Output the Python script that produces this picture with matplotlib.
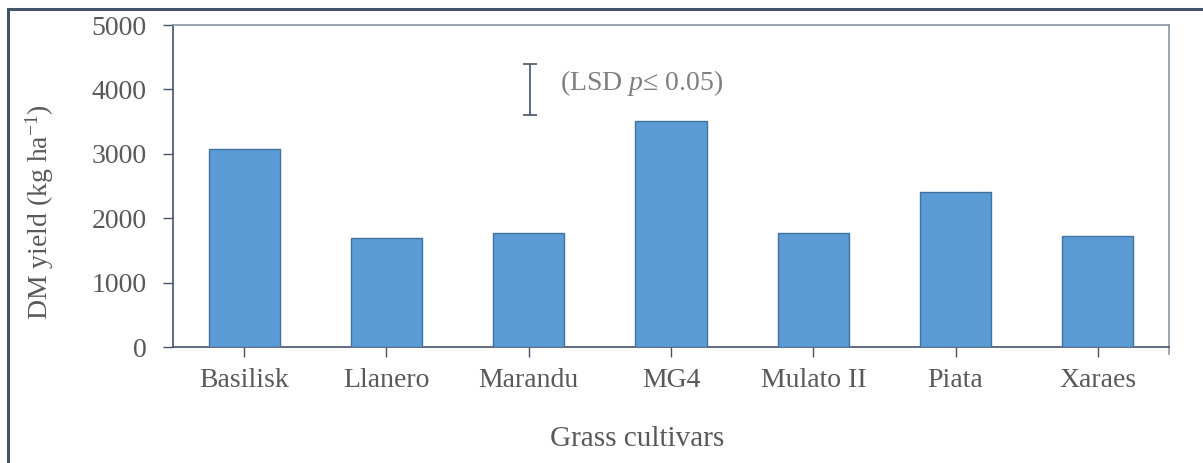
import matplotlib.pyplot as plt
from matplotlib.patches import Rectangle

cultivars = ["Basilisk", "Llanero", "Marandu", "MG4", "Mulato II", "Piata", "Xaraes"]
dm_yield = [3075, 1690, 1770, 3510, 1770, 2405, 1725]
lsd_center = 4000
lsd_half = 395

plt.rcParams['font.family'] = ['Liberation Serif', 'DejaVu Serif']
plt.rcParams['mathtext.fontset'] = 'custom'
plt.rcParams['mathtext.rm'] = 'Liberation Serif'
plt.rcParams['mathtext.it'] = 'Liberation Serif:italic'

txt = "#595959"
spine_dark = "#44546A"
spine_light = "#8C96A3"

fig = plt.figure(figsize=(12.03, 4.63), dpi=100)
ax = fig.add_axes([0.1438, 0.2505, 0.8279, 0.6955])

x = range(len(cultivars))
ax.bar(x, dm_yield, width=0.5, color="#5B9BD5", edgecolor="#41719C", linewidth=1, zorder=3)

ax.set_xlim(-0.5, len(cultivars) - 0.5)
ax.set_ylim(0, 5000)
ax.set_yticks([0, 1000, 2000, 3000, 4000, 5000])
ax.set_xticks(list(x))
ax.set_xticklabels(cultivars)

ax.tick_params(axis='both', colors=spine_dark, labelcolor=txt, labelsize=20,
               direction='out', length=7, width=1)
ax.tick_params(axis='x', pad=8)
ax.tick_params(axis='y', pad=12)

ax.spines['left'].set_color(spine_dark)
ax.spines['bottom'].set_color(spine_dark)
ax.spines['top'].set_color(spine_light)
ax.spines['right'].set_color(spine_light)
for s in ax.spines.values():
    s.set_linewidth(1.2)

# small tick at right end of the category axis
ax.plot([1, 1], [0, -0.022], transform=ax.transAxes, color=spine_light,
        linewidth=1.2, clip_on=False)

# LSD error bar
ax.errorbar([2.01], [lsd_center], yerr=[lsd_half], fmt='none', ecolor=spine_dark,
            elinewidth=1.2, capsize=5, capthick=1.2, zorder=4)
ax.text(2.22, 4100, "(LSD $p$\u2264 0.05)", color="#7F7F7F", fontsize=20,
        va='center', ha='left')

ax.set_xlabel("Grass cultivars", color=txt, fontsize=21)
ax.set_ylabel(r"DM yield (kg ha$^{\mathregular{-1}}$)", color=txt, fontsize=20)
ax.xaxis.set_label_coords(0.466, -0.245)
ax.yaxis.set_label_coords(-0.117, 0.42)

# outer frame
fig.patches.append(Rectangle((8 / 1203, -0.1), 1.2, (463 - 9) / 463 + 0.1,
                             transform=fig.transFigure, fill=False,
                             edgecolor=spine_dark, linewidth=2.2))

fig.savefig("out.png", dpi=100)
